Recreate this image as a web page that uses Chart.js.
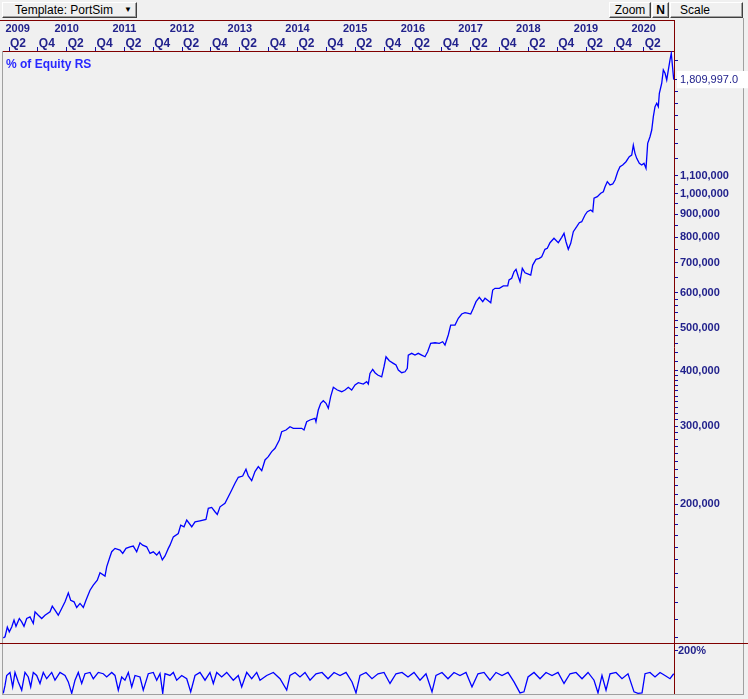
<!DOCTYPE html>
<html>
<head>
<meta charset="utf-8">
<script src="https://cdn.jsdelivr.net/npm/chart.js@4.4.1/dist/chart.umd.min.js"></script>
<style>
    body { margin: 0; width: 748px; height: 699px; overflow: hidden; position: relative; background: #f0f0f0; font-family: 'Liberation Sans', Arial, sans-serif; }
    .btn { position: absolute; top: 2px; height: 14px; box-sizing: content-box; background: #f0f0f0; border: 1px solid; border-color: #ffffff #404040 #404040 #ffffff; box-shadow: inset -1px -1px 0 #a0a0a0; font-size: 12px; line-height: 14px; color: #000; white-space: nowrap; }
    .hline { position: absolute; height: 1px; background: #800000; z-index: 5; }
    .vline { position: absolute; width: 1px; background: #800000; z-index: 5; }
    #frame { position: absolute; left: 2px; top: 51px; width: 740px; height: 643px; border-left: 1px solid #a0a0a0; border-bottom: 1px solid #a0a0a0; z-index: 4; pointer-events: none; }
    #frameRight { position: absolute; left: 743px; top: 18px; width: 1px; height: 677px; background: #a0a0a0; }
    #legend { position: absolute; left: 6px; top: 57px; font-size: 12px; font-weight: bold; color: #2828ff; z-index: 6; }
    canvas { position: absolute; left: 0; }
</style>
</head>
<body>
<div class="btn" style="left:2px; width:133px;"><span style="padding-left:12px;">Template: PortSim</span><span style="position:absolute; left:121px; font-size:8px;">&#9660;</span></div>
<div class="btn" style="left:609px; width:40px; text-align:center;">Zoom</div>
<div class="btn" style="left:652px; width:15px; text-align:center; font-weight:bold;">N</div>
<div class="btn" style="left:670px; width:71px;"><span style="padding-left:9px;">Scale</span></div>
<div id="frameRight"></div>
<div class="hline" style="left:0; top:20px; width:675px;"></div>
<div class="vline" style="left:674px; top:20px; height:31px;"></div>
<div class="hline" style="left:0; top:643px; width:748px;"></div>
<div id="frame"></div>
<div id="legend">% of Equity RS</div>

<canvas id="equityChart" width="748" height="643" style="top:0;"></canvas>
<canvas id="exposureChart" width="748" height="56" style="top:643px;"></canvas>

<script>
// 자산 곡선 (날짜 = 소수 연도)
const equityDates = [
    2009.151, 2009.181, 2009.221, 2009.255, 2009.297, 2009.337, 2009.371, 2009.429, 2009.470, 2009.510,
    2009.557, 2009.614, 2009.671, 2009.701, 2009.758, 2009.817, 2009.874, 2009.961, 2010.000, 2010.047,
    2010.104, 2010.163, 2010.221, 2010.278, 2010.319, 2010.377, 2010.423, 2010.481, 2010.538, 2010.584,
    2010.654, 2010.711, 2010.780, 2010.827, 2010.914, 2010.943, 2011.000, 2011.030, 2011.087, 2011.174,
    2011.221, 2011.278, 2011.347, 2011.404, 2011.463, 2011.520, 2011.567, 2011.636, 2011.694, 2011.751,
    2011.810, 2011.855, 2011.907, 2011.954, 2012.011, 2012.040, 2012.098, 2012.184, 2012.226, 2012.283,
    2012.330, 2012.417, 2012.474, 2012.560, 2012.664, 2012.704, 2012.763, 2012.820, 2012.860, 2012.907,
    2012.993, 2013.051, 2013.110, 2013.167, 2013.224, 2013.300, 2013.357, 2013.397, 2013.456, 2013.513,
    2013.571, 2013.630, 2013.687, 2013.744, 2013.803, 2013.861, 2013.935, 2013.976, 2014.051, 2014.120,
    2014.177, 2014.236, 2014.323, 2014.363, 2014.409, 2014.466, 2014.553, 2014.570, 2014.610, 2014.652,
    2014.697, 2014.744, 2014.784, 2014.825, 2014.871, 2014.940, 2015.016, 2015.074, 2015.130, 2015.189,
    2015.247, 2015.304, 2015.390, 2015.449, 2015.477, 2015.506, 2015.553, 2015.593, 2015.640, 2015.709,
    2015.749, 2015.784, 2015.841, 2015.911, 2015.957, 2015.997, 2016.056, 2016.113, 2016.153, 2016.170,
    2016.229, 2016.286, 2016.343, 2016.402, 2016.460, 2016.506, 2016.558, 2016.633, 2016.708, 2016.766,
    2016.806, 2016.863, 2016.905, 2016.980, 2017.037, 2017.096, 2017.153, 2017.210, 2017.252, 2017.297,
    2017.344, 2017.401, 2017.460, 2017.500, 2017.557, 2017.599, 2017.633, 2017.673, 2017.748, 2017.817,
    2017.893, 2017.916, 2017.962, 2018.002, 2018.037, 2018.077, 2018.106, 2018.146, 2018.193, 2018.250,
    2018.292, 2018.326, 2018.383, 2018.441, 2018.482, 2018.539, 2018.579, 2018.626, 2018.695, 2018.770,
    2018.829, 2018.869, 2018.903, 2018.943, 2018.985, 2019.030, 2019.089, 2019.134, 2019.176, 2019.233,
    2019.273, 2019.332, 2019.367, 2019.389, 2019.446, 2019.505, 2019.550, 2019.580, 2019.619, 2019.666,
    2019.713, 2019.753, 2019.799, 2019.839, 2019.886, 2019.943, 2020.000, 2020.042, 2020.070, 2020.099,
    2020.129, 2020.174, 2020.215, 2020.255, 2020.290, 2020.319, 2020.359, 2020.389, 2020.417, 2020.446,
    2020.476, 2020.503, 2020.521, 2020.562, 2020.590, 2020.620, 2020.649, 2020.677, 2020.706, 2020.728,
    2020.770
];
const equityValues = [
    100000, 100600, 105800, 103200, 105800, 109700, 106200, 110600, 108700, 106200,
    110600, 111500, 107800, 114500, 112500, 110600, 112500, 114500, 117900, 115500,
    112500, 116500, 120600, 126300, 121600, 120600, 117100, 119600, 117100, 121600,
    128100, 131500, 134900, 140200, 137800, 144600, 152400, 156400, 159100, 157700,
    155000, 159100, 160400, 161000, 156300, 163800, 161800, 160400, 155000, 156300,
    153700, 156300, 149900, 153000, 159100, 161800, 168900, 171900, 179500, 178000,
    184300, 178000, 182600, 183600, 184900, 195800, 196800, 192400, 189800, 197400,
    201000, 208000, 215400, 223000, 230100, 231600, 239800, 231600, 226100, 236900,
    243100, 238100, 251700, 256000, 262800, 267400, 279100, 291400, 294000, 299100,
    296600, 296600, 296600, 294000, 306900, 309700, 312400, 306900, 326100, 337700,
    342300, 337700, 329100, 349500, 366900, 361800, 358600, 361800, 366900, 361800,
    371300, 375800, 373200, 377700, 373200, 394400, 402700, 395700, 391000, 387500,
    408200, 429900, 421100, 415400, 411800, 401200, 395700, 397700, 404800, 433700,
    437600, 433700, 437600, 433700, 429900, 441200, 460900, 462300, 460900, 464700,
    456800, 481200, 506800, 506800, 524700, 536600, 540200, 538500, 536600, 552600,
    572000, 585200, 572000, 582200, 575000, 569100, 607800, 613200, 613200, 620600,
    620600, 640200, 645900, 668100, 676500, 651000, 634600, 680000, 664600, 660200,
    656700, 691700, 712400, 716200, 722100, 750600, 754500, 776700, 794700, 776700,
    798800, 815500, 780700, 750600, 774300, 822300, 843900, 861600, 866100, 896800,
    912200, 920300, 912200, 978000, 986100, 1003600, 1012000, 1038600, 1065900, 1047800,
    1053300, 1075300, 1122500, 1152000, 1162200, 1182200, 1213200, 1223900, 1289100, 1234700,
    1203100, 1172200, 1162200, 1172200, 1142300, 1300500, 1345900, 1393400, 1493300, 1572900,
    1600800, 1572900, 1686100, 1775900, 1902700, 1870500, 1806500, 1902700, 2004200, 2075000,
    1809997
];

// 하단 패널: 자산 대비 비중 (%)
const exposureDates = [
    2009.151, 2009.181, 2009.210, 2009.267, 2009.314, 2009.354, 2009.411, 2009.470, 2009.527, 2009.584,
    2009.626, 2009.671, 2009.730, 2009.787, 2009.844, 2009.903, 2009.990, 2010.047, 2010.134, 2010.221,
    2010.278, 2010.337, 2010.394, 2010.451, 2010.510, 2010.567, 2010.654, 2010.711, 2010.798, 2010.884,
    2010.943, 2011.030, 2011.087, 2011.144, 2011.203, 2011.260, 2011.318, 2011.377, 2011.434, 2011.520,
    2011.577, 2011.664, 2011.751, 2011.810, 2011.867, 2011.914, 2011.954, 2012.040, 2012.098, 2012.156,
    2012.243, 2012.330, 2012.399, 2012.474, 2012.560, 2012.647, 2012.733, 2012.791, 2012.850, 2012.936,
    2013.023, 2013.137, 2013.224, 2013.283, 2013.370, 2013.456, 2013.543, 2013.600, 2013.716, 2013.831,
    2013.947, 2014.063, 2014.120, 2014.207, 2014.293,
    2014.380, 2014.467, 2014.571, 2014.675, 2014.779, 2014.883, 2014.987, 2015.091, 2015.195, 2015.264,
    2015.333, 2015.437, 2015.541, 2015.645, 2015.749, 2015.853, 2015.957, 2016.061, 2016.165, 2016.269,
    2016.373, 2016.477, 2016.581, 2016.650, 2016.754, 2016.858, 2016.962, 2017.066, 2017.170, 2017.274,
    2017.378, 2017.482, 2017.586, 2017.690, 2017.794, 2017.898, 2018.002, 2018.106, 2018.175, 2018.245,
    2018.349, 2018.453, 2018.557, 2018.661, 2018.765, 2018.869, 2018.973, 2019.077, 2019.181, 2019.285,
    2019.389, 2019.458, 2019.527, 2019.597, 2019.666, 2019.770, 2019.874, 2019.978, 2020.082, 2020.151,
    2020.221, 2020.273, 2020.359, 2020.446, 2020.533, 2020.619, 2020.706, 2020.770
];
const exposureValues = [
    3, 40, 86, 100, 33, 100, 56, 18, 100, 79,
    33, 100, 86, 49, 100, 71, 100, 64, 100, 86,
    56, 3, 64, 100, 49, 94, 100, 71, 100, 94,
    79, 100, 86, 18, 79, 64, 100, 33, 86, 79,
    18, 94, 100, 64, 94, 3, 94, 86, 100, 64,
    86, 71, 10, 86, 100, 64, 100, 49, 100, 79,
    100, 64, 86, 33, 100, 71, 100, 64, 86, 100,
    71, 18, 86, 100, 79,
    100, 64, 94, 100, 71, 100, 86, 100, 56, 5,
    86, 100, 71, 94, 100, 49, 94, 100, 79, 100,
    64, 94, 10, 86, 100, 71, 100, 86, 100, 33,
    94, 100, 64, 100, 86, 100, 56, 5, 10, 79,
    100, 71, 100, 86, 100, 49, 94, 100, 71, 100,
    64, 5, 86, 18, 94, 100, 71, 94, 10, 3,
    5, 94, 100, 79, 100, 86, 71, 94
];

// 축 눈금
const years = ['2009', '2010', '2011', '2012', '2013', '2014', '2015', '2016', '2017', '2018', '2019', '2020'];
const yearTickDates = [2009.40, 2010.25, 2011.25, 2012.25, 2013.25, 2014.25, 2015.25, 2016.25, 2017.25, 2018.25, 2019.25, 2020.25];
const quarterTickDates = [];
for (let y = 2009; y <= 2020; y++) {
    quarterTickDates.push(y + 0.25);
    if (y < 2020) quarterTickDates.push(y + 0.75);
}
const yLabelTicks = [200000, 300000, 400000, 500000, 600000, 700000, 800000, 900000, 1000000, 1100000];
const yMinorTicks = [
    100000, 110000, 120000, 130000, 140000, 150000, 160000, 170000, 180000, 190000,
    210000, 220000, 230000, 240000, 250000, 260000, 270000, 280000, 290000,
    310000, 320000, 330000, 340000, 350000, 360000, 370000, 380000, 390000,
    420000, 440000, 460000, 480000, 520000, 540000, 560000, 580000,
    650000, 750000, 850000, 950000, 1050000,
    1200000, 1300000, 1400000, 1500000, 1600000, 1700000, 2000000
];
const lastValue = equityValues[equityValues.length - 1];
const exposureTicks = [200];

const xMin = 2009.146;
const xMax = 2020.775;
const navy = '#22228c';
const tickBlue = '#1010a8';
const axisRed = '#800000';

Chart.defaults.font.family = "'Liberation Sans', Arial, sans-serif";
Chart.defaults.animation = false;

// 라벨 여백이 차트 영역을 줄이지 않도록
function noPad(s) {
    s.paddingTop = 0;
    s.paddingBottom = 0;
    s.paddingLeft = 0;
    s.paddingRight = 0;
}

// 상단 자산 차트
const equityChart = new Chart(document.getElementById('equityChart'), {
    type: 'line',
    data: {
        datasets: [{
            data: equityDates.map((d, i) => ({ x: d, y: equityValues[i] })),
            borderColor: '#0000ff',
            borderWidth: 1.3,
            pointRadius: 0,
            tension: 0,
            xAxisID: 'xq',
            yAxisID: 'y'
        }]
    },
    options: {
        responsive: false,
        layout: { padding: { left: 3, top: 20, right: 0, bottom: 0 } },
        plugins: { legend: { display: false }, tooltip: { enabled: false } },
        scales: {
            xq: {
                type: 'linear', position: 'top', min: xMin, max: xMax, weight: 0,
                afterBuildTicks: s => { s.ticks = quarterTickDates.map(v => ({ value: v })); },
                afterFit: s => { s.height = 16; noPad(s); },
                grid: { drawOnChartArea: false, tickLength: 4, tickColor: tickBlue },
                border: { color: axisRed, width: 1 },
                ticks: {
                    autoSkip: false, maxRotation: 0, align: 'start', padding: -4, labelOffset: 1,
                    color: navy, font: { size: 12, weight: 'bold' },
                    callback: v => (Math.abs((v % 1) - 0.25) < 0.01 ? 'Q2' : 'Q4')
                }
            },
            xy: {
                type: 'linear', position: 'top', min: xMin, max: xMax, weight: 1,
                afterBuildTicks: s => { s.ticks = yearTickDates.map(v => ({ value: v })); },
                afterFit: s => { s.height = 15; noPad(s); },
                grid: { display: false, drawTicks: false },
                border: { display: false },
                ticks: {
                    autoSkip: false, maxRotation: 0, padding: -1,
                    color: navy, font: { size: 11, weight: 'bold' },
                    callback: (v, i) => years[i]
                }
            },
            y: {
                type: 'logarithmic', position: 'right', min: 97400, max: 2099500,
                afterBuildTicks: s => {
                    s.ticks = yLabelTicks.concat(yMinorTicks, [lastValue]).sort((a, b) => a - b).map(v => ({ value: v }));
                },
                afterFit: s => { s.width = 74; noPad(s); },
                grid: { drawOnChartArea: false, tickLength: 4, tickColor: tickBlue },
                border: { color: axisRed, width: 1 },
                ticks: {
                    autoSkip: false, padding: 2, color: navy,
                    showLabelBackdrop: true,
                    backdropPadding: { left: 3, right: 12, top: 2, bottom: 2 },
                    backdropColor: c => (c.tick && c.tick.value === lastValue ? '#ffffff' : 'rgba(0,0,0,0)'),
                    font: c => ({ size: 11, weight: c.tick && c.tick.value === lastValue ? 'normal' : 'bold' }),
                    callback: v => {
                        if (v === lastValue) return lastValue.toLocaleString('en-US', { minimumFractionDigits: 1 });
                        if (yLabelTicks.includes(v)) return v.toLocaleString('en-US');
                        return '';
                    }
                }
            }
        }
    }
});

// 하단 비중 차트
const exposureChart = new Chart(document.getElementById('exposureChart'), {
    type: 'line',
    data: {
        datasets: [{
            data: exposureDates.map((d, i) => ({ x: d, y: exposureValues[i] })),
            borderColor: '#0000ff',
            borderWidth: 1.3,
            pointRadius: 0,
            tension: 0
        }]
    },
    options: {
        responsive: false,
        layout: { padding: { left: 3, top: 1, right: 0, bottom: 5 } },
        plugins: { legend: { display: false }, tooltip: { enabled: false } },
        scales: {
            x: { type: 'linear', min: xMin, max: xMax, display: false },
            y: {
                position: 'right', min: 0, max: 232,
                afterBuildTicks: s => { s.ticks = exposureTicks.map(v => ({ value: v })); },
                afterFit: s => { s.width = 74; noPad(s); },
                grid: { drawOnChartArea: false, tickLength: 4, tickColor: tickBlue },
                border: { color: axisRed, width: 1 },
                ticks: { padding: 0, color: navy, font: { size: 11, weight: 'bold' }, callback: v => v + '%' }
            }
        }
    }
});
</script>
</body>
</html>
